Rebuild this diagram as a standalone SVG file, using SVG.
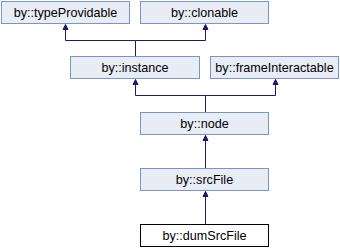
<svg xmlns="http://www.w3.org/2000/svg" width="340" height="248" viewBox="0 0 340 248">
<style>
.n rect{fill:#e8ecf5;stroke:#7b94c6;stroke-width:1}
.n.cur rect{fill:#ffffff;stroke:#000000}
.n text{font-family:"Liberation Sans",Arial,sans-serif;font-size:12.6px;fill:#000;text-anchor:middle}
.e path{fill:none;stroke:#191970;stroke-width:1}
.e polygon{fill:#191970;stroke:#191970;stroke-width:1}
</style>
<g id="edges" class="e">
<path d="M135.5 56 V40.5 H65.5 V29"/>
<polygon points="65.5,24.5 63,29.5 68,29.5"/>
<path d="M135.5 40.5 H205.5 V29"/>
<polygon points="205.5,24.5 203,29.5 208,29.5"/>
<path d="M205.5 112 V95.5 H135.5 V84"/>
<polygon points="135.5,79.5 133,84.5 138,84.5"/>
<path d="M205.5 95.5 H275.5 V84"/>
<polygon points="275.5,79.5 273,84.5 278,84.5"/>
<path d="M205.5 168 V140"/>
<polygon points="205.5,135.5 203,140.5 208,140.5"/>
<path d="M205.5 224 V196"/>
<polygon points="205.5,191.5 203,196.5 208,196.5"/>
</g>
<g id="typeProvidable" class="n"><rect x="1.5" y="1.5" width="128" height="22"/><text x="65.5" y="17">by::typeProvidable</text></g>
<g id="clonable" class="n"><rect x="140.5" y="1.5" width="128" height="22"/><text x="204.5" y="17">by::clonable</text></g>
<g id="instance" class="n"><rect x="70.5" y="56.5" width="129" height="22"/><text x="135" y="72">by::instance</text></g>
<g id="frameInteractable" class="n"><rect x="210.5" y="56.5" width="128" height="22"/><text x="274.5" y="72">by::frameInteractable</text></g>
<g id="node" class="n"><rect x="140.5" y="112.5" width="128" height="22"/><text x="204.5" y="128">by::node</text></g>
<g id="srcFile" class="n"><rect x="140.5" y="168.5" width="128" height="22"/><text x="204.5" y="184">by::srcFile</text></g>
<g id="dumSrcFile" class="n cur"><rect x="140.5" y="224.5" width="128" height="22"/><text x="204.5" y="240">by::dumSrcFile</text></g>
</svg>
